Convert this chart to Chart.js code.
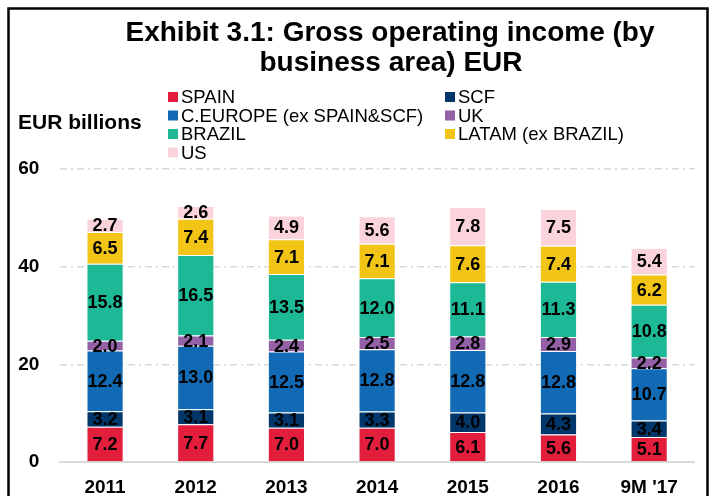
<!DOCTYPE html>
<html>
<head>
<meta charset="utf-8">
<script src="https://cdn.jsdelivr.net/npm/chart.js@4/dist/chart.umd.min.js"></script>
<style>
html,body{margin:0;padding:0;background:#fff;overflow:hidden;}
#wrap{width:712px;height:496px;position:relative;overflow:hidden;}
</style>
</head>
<body>
<div id="wrap"><canvas id="c" width="712" height="514"></canvas></div>
<script>
const categories = ['2011','2012','2013','2014','2015','2016',"9M '17"];
const spain   = [7.2, 7.7, 7.0, 7.0, 6.1, 5.6, 5.1];
const scf     = [3.2, 3.1, 3.1, 3.3, 4.0, 4.3, 3.4];
const ceurope = [12.4, 13.0, 12.5, 12.8, 12.8, 12.8, 10.7];
const uk      = [2.0, 2.1, 2.4, 2.5, 2.8, 2.9, 2.2];
const brazil  = [15.8, 16.5, 13.5, 12.0, 11.1, 11.3, 10.8];
const latam   = [6.5, 7.4, 7.1, 7.1, 7.6, 7.4, 6.2];
const us      = [2.7, 2.6, 4.9, 5.6, 7.8, 7.5, 5.4];
const yTicks  = [0, 20, 40, 60];

const seriesNames = ['SPAIN','SCF','C.EUROPE (ex SPAIN&SCF)','UK','BRAZIL','LATAM (ex BRAZIL)','US'];
const seriesData = [spain, scf, ceurope, uk, brazil, latam, us];
const seriesColors = ['#E31D3C','#00366A','#126AB5','#9460A6','#1DB997','#F1C416','#FBD3DA'];

const FONT = '"Liberation Sans", Arial, sans-serif';

const decorPlugin = {
  id: 'decor',
  afterDraw(chart) {
    const ctx = chart.ctx;
    ctx.save();
    // frame
    ctx.strokeStyle = '#000';
    ctx.lineWidth = 2.5;
    ctx.strokeRect(8.5, 8.5, 699, 600);
    // title
    ctx.fillStyle = '#000';
    ctx.textAlign = 'center';
    ctx.textBaseline = 'middle';
    ctx.font = 'bold 28px ' + FONT;
    ctx.fillText('Exhibit 3.1: Gross operating income (by', 390, 33);
    ctx.fillText('business area) EUR', 391, 63);
    // y axis title
    ctx.textAlign = 'left';
    ctx.font = 'bold 21px ' + FONT;
    ctx.fillText('EUR billions', 18, 123);
    // legend
    const order = [[0, 0, 0], [1, 1, 0], [2, 0, 1], [3, 1, 1], [4, 0, 2], [5, 1, 2], [6, 0, 3]];
    const colX = [168, 445];
    const rowY = [97, 115.5, 134, 152.5];
    ctx.font = '18.5px ' + FONT;
    order.forEach(([i, col, row]) => {
      const x = colX[col], y = rowY[row];
      ctx.fillStyle = chart.data.datasets[i].backgroundColor;
      ctx.fillRect(x, y - 5, 10, 10);
      ctx.fillStyle = '#000';
      ctx.fillText(chart.data.datasets[i].label, x + 13, y + 1);
    });
    ctx.restore();
  },
  afterDatasetsDraw(chart) {
    const ctx = chart.ctx;
    ctx.save();
    ctx.fillStyle = '#000';
    ctx.textAlign = 'center';
    ctx.textBaseline = 'middle';
    ctx.font = 'bold 18px ' + FONT;
    chart.data.datasets.forEach((ds, i) => {
      const meta = chart.getDatasetMeta(i);
      meta.data.forEach((bar, j) => {
        const v = ds.data[j];
        const y = (bar.y + bar.base) / 2;
        ctx.fillText(v.toFixed(1), bar.x, y + 1);
      });
    });
    ctx.restore();
  }
};

new Chart(document.getElementById('c'), {
  type: 'bar',
  data: {
    labels: categories,
    datasets: seriesNames.map((n, i) => ({
      label: n,
      data: seriesData[i],
      backgroundColor: seriesColors[i],
      borderColor: 'rgba(255,255,255,0.45)',
      borderWidth: 1,
      barPercentage: 0.41,
      categoryPercentage: 1.0
    }))
  },
  options: {
    responsive: false,
    animation: false,
    devicePixelRatio: 1,
    layout: { padding: { top: 169, left: -2, right: 17.5, bottom: 0 } },
    plugins: { legend: { display: false }, title: { display: false }, tooltip: { enabled: false } },
    scales: {
      x: {
        stacked: true,
        grid: { display: false, drawTicks: false },
        border: { display: true, color: '#D9D9D9', width: 2 },
        ticks: { color: '#000', padding: 17.5, font: { family: FONT, size: 19, weight: 'bold', lineHeight: 0.9 } }
      },
      y: {
        stacked: true,
        min: 0, max: 60,
        afterBuildTicks(scale) { scale.ticks = yTicks.map(v => ({ value: v })); },
        grid: {
          drawTicks: false,
          lineWidth: 1.5,
          color: (c) => (c.tick && c.tick.value === 0) ? 'rgba(0,0,0,0)' : '#D9D9D9'
        },
        border: { display: false, dash: [7, 4, 2, 4] },
        ticks: { color: '#000', padding: 20.3, font: { family: FONT, size: 19, weight: 'bold' } }
      }
    }
  },
  plugins: [decorPlugin]
});
</script>
</body>
</html>
